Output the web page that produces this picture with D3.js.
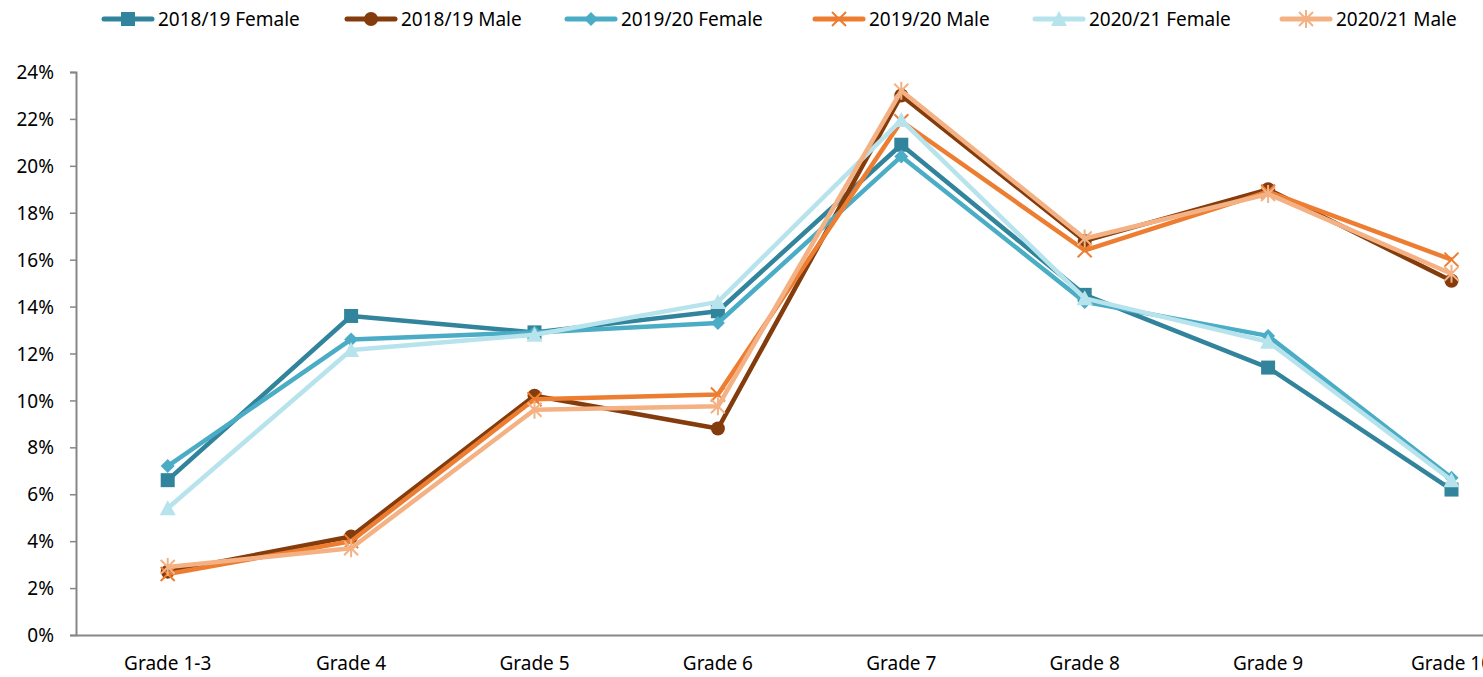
<!DOCTYPE html>
<html>
<head>
<meta charset="utf-8">
<script src="https://cdn.jsdelivr.net/npm/d3@7"></script>
<style>
  body { margin: 0; background: #fff; overflow: hidden; }
  text { font-family: "Noto Sans", "DejaVu Sans", sans-serif; fill: #000; }
</style>
</head>
<body>
<div id="chart"></div>
<script>
const grades = ["Grade 1-3", "Grade 4", "Grade 5", "Grade 6", "Grade 7", "Grade 8", "Grade 9", "Grade 10"];
const yTicks = [0, 0.02, 0.04, 0.06, 0.08, 0.10, 0.12, 0.14, 0.16, 0.18, 0.20, 0.22, 0.24];

const female1819 = [6.6, 13.6, 12.9, 13.8, 20.9, 14.5, 11.4, 6.2];
const male1819   = [2.7, 4.2, 10.2, 8.8, 23.0, 16.8, 19.0, 15.1];
const female1920 = [7.2, 12.6, 12.9, 13.3, 20.4, 14.2, 12.75, 6.7];
const male1920   = [2.6, 4.0, 10.05, 10.25, 21.9, 16.4, 18.9, 16.0];
const female2021 = [5.4, 12.15, 12.8, 14.2, 21.95, 14.35, 12.5, 6.6];
const male2021   = [2.9, 3.7, 9.6, 9.75, 23.2, 16.9, 18.8, 15.4];

const series = [
  {name: "2018/19 Female", values: female1819, color: "#31849b", marker: "square"},
  {name: "2018/19 Male",   values: male1819,   color: "#843c0c", marker: "circle"},
  {name: "2019/20 Female", values: female1920, color: "#4bacc6", marker: "diamond"},
  {name: "2019/20 Male",   values: male1920,   color: "#ed7d31", marker: "x"},
  {name: "2020/21 Female", values: female2021, color: "#b7e3ec", marker: "triangle"},
  {name: "2020/21 Male",   values: male2021,   color: "#f4b183", marker: "star"}
];

const width = 1483, height = 677;
const plotLeft = 76, plotTop = 72, plotBottom = 635, step = 183.4;

const svg = d3.select("#chart").append("svg")
    .attr("width", width)
    .attr("height", height);

const x = d3.scaleBand()
    .domain(grades)
    .range([plotLeft, plotLeft + step * grades.length])
    .padding(0);
const cx = d => x(d) + x.bandwidth() / 2;

const y = d3.scaleLinear()
    .domain([0, 0.24])
    .range([plotBottom, plotTop]);

// y axis
const yAxis = svg.append("g")
    .attr("transform", "translate(" + plotLeft + ",0)")
    .call(d3.axisLeft(y).tickValues(yTicks).tickFormat(d3.format(".0%")).tickSize(6).tickPadding(16));
yAxis.select(".domain").attr("stroke", "#868686").attr("stroke-width", 2);
yAxis.selectAll(".tick line").attr("stroke", "#868686").attr("stroke-width", 1.5);
yAxis.selectAll("text").style("font-size", "19px").attr("dy", "0.35em");

// x axis (last label runs off the right edge, as in the source)
const xAxis = svg.append("g")
    .attr("transform", "translate(0," + plotBottom + ")")
    .call(d3.axisBottom(x).tickSize(0).tickPadding(22));
xAxis.select(".domain").attr("stroke", "#868686").attr("stroke-width", 2);
xAxis.selectAll("text").style("font-size", "19px");

function drawMarker(g, type, color) {
  const s = 7;
  if (type === "square") {
    g.append("rect").attr("x", -s).attr("y", -s).attr("width", 2 * s).attr("height", 2 * s).attr("fill", color);
  } else if (type === "circle") {
    g.append("circle").attr("r", s).attr("fill", color);
  } else if (type === "diamond") {
    g.append("path").attr("d", "M0,-7L7,0L0,7L-7,0Z").attr("fill", color);
  } else if (type === "triangle") {
    g.append("path").attr("d", "M0,-8L8,7L-8,7Z").attr("fill", color);
  } else if (type === "x") {
    g.append("path").attr("d", "M-7,-7L7,7M-7,7L7,-7").attr("stroke", color).attr("stroke-width", 2).attr("fill", "none");
  } else if (type === "star") {
    g.append("path").attr("d", "M-7,-7L7,7M-7,7L7,-7M0,-9L0,9").attr("stroke", color).attr("stroke-width", 2).attr("fill", "none");
  }
}

const line = d3.line()
    .x((d, i) => cx(grades[i]))
    .y(d => y(d / 100));

series.forEach(s => {
  const g = svg.append("g");
  g.append("path")
      .datum(s.values)
      .attr("fill", "none")
      .attr("stroke", s.color)
      .attr("stroke-width", 4.5)
      .attr("stroke-linejoin", "round")
      .attr("d", line);
  g.selectAll(".pt")
    .data(s.values)
    .enter().append("g")
      .attr("class", "pt")
      .attr("transform", (d, i) => "translate(" + cx(grades[i]) + "," + y(d / 100) + ")")
      .each(function() { drawMarker(d3.select(this), s.marker, s.color); });
});

// legend
const legendX = [102, 345, 565, 813, 1033, 1280];
const legend = svg.append("g").attr("transform", "translate(0,19)");
series.forEach((s, i) => {
  const g = legend.append("g").attr("transform", "translate(" + legendX[i] + ",0)");
  g.append("line").attr("x1", 2).attr("x2", 50).attr("stroke", s.color).attr("stroke-width", 5).attr("stroke-linecap", "round");
  const m = g.append("g").attr("transform", "translate(26,0)");
  drawMarker(m, s.marker, s.color);
  g.append("text").attr("x", 56).attr("dy", "0.35em").style("font-size", "19px").text(s.name);
});
</script>
</body>
</html>
